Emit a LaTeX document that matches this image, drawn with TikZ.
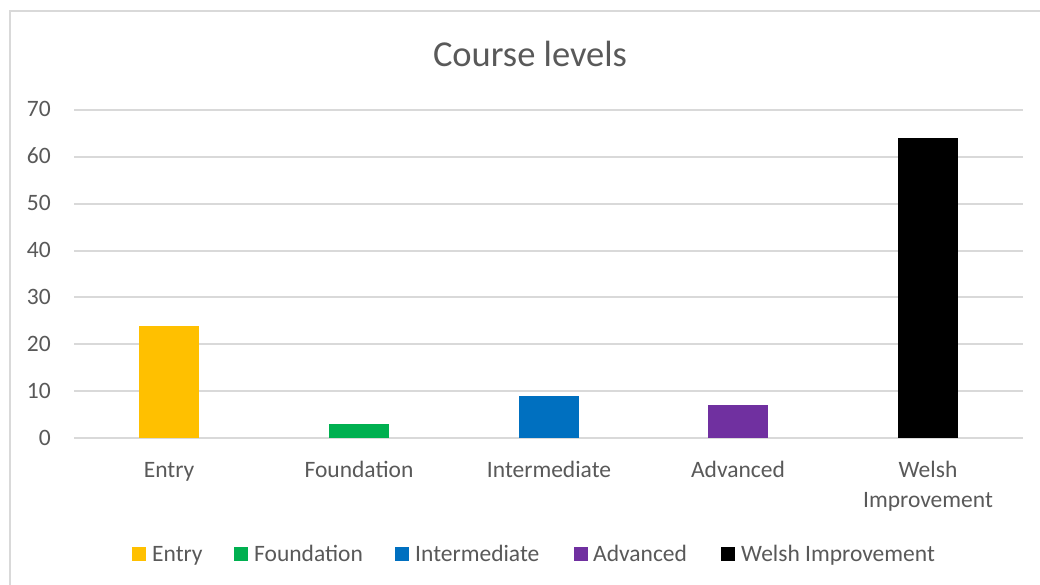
\documentclass[tikz,border=0pt]{standalone}
\usepackage{fontspec}
\setmainfont{Carlito}
\definecolor{txt}{HTML}{595959}
\definecolor{grid}{HTML}{D9D9D9}
\definecolor{cEntry}{HTML}{FFC000}
\definecolor{cFound}{HTML}{00B050}
\definecolor{cInter}{HTML}{0070C0}
\definecolor{cAdv}{HTML}{7030A0}
\definecolor{cWelsh}{HTML}{000000}
\begin{document}
\begin{tikzpicture}[x=1pt,y=-1pt,
  lbl/.style={font=\fontsize{23.5}{30}\selectfont, text=txt, inner sep=0pt},
  ylbl/.style={lbl, anchor=base east},
  catlbl/.style={lbl, anchor=base},
  leglbl/.style={lbl, anchor=base west},
  gridline/.style={draw=grid, line width=2pt},
  bar/.style={inner sep=0pt, outer sep=0pt},
  legsq/.style={inner sep=0pt, minimum size=14pt, anchor=south west}]
\useasboundingbox (0,0) rectangle (1040,585);
\clip (0,0) rectangle (1040,585);
\fill[white] (0,0) rectangle (1040,585);
\draw[grid, line width=1.4pt] (10,11) rectangle (1060,600);
% title
\node[lbl, font=\fontsize{36.5}{44}\selectfont, anchor=base] (title) at (530,67) {Course levels};
% gridlines and y labels
\foreach \v in {0,10,...,70}{
  \pgfmathsetmacro{\yy}{438-\v*4.6857}
  \coordinate (gl\v) at (74,\yy);
  \coordinate (gr\v) at (1023,\yy);
  \draw[gridline] (gl\v) -- (gr\v);
  \node[ylbl] (y\v) at (51,\yy+7) {\v};
}
% bars
\foreach \c/\val/\col/\nm in {169/24/cEntry/bEntry, 359/3/cFound/bFound, 549/9/cInter/bInter, 738/7/cAdv/bAdv, 928/64/cWelsh/bWelsh}{
  \pgfmathsetmacro{\top}{438-\val*4.6857}
  \fill[\col] (\c-30,\top) rectangle (\c+30,437.5);
}
% category labels
\node[catlbl] (cEntryL) at (169,477) {Entry};
\node[catlbl] (cFoundL) at (359,477) {Foundation};
\node[catlbl] (cInterL) at (549,477) {Intermediate};
\node[catlbl] (cAdvL) at (738,477) {Advanced};
\node[catlbl] (cWelshL) at (928,477) {\begin{tabular}[t]{@{}c@{}}Welsh\\Improvement\end{tabular}};
% legend
\node[legsq, fill=cEntry] (sqE) at (132,561) {};
\node[leglbl] (lE) at (152,561) {Entry};
\node[legsq, fill=cFound] (sqF) at (234,561) {};
\node[leglbl] (lF) at (254,561) {Foundation};
\node[legsq, fill=cInter] (sqI) at (395,561) {};
\node[leglbl] (lI) at (415,561) {Intermediate};
\node[legsq, fill=cAdv] (sqA) at (574,561) {};
\node[leglbl] (lA) at (593,561) {Advanced};
\node[legsq, fill=cWelsh] (sqW) at (721,561) {};
\node[leglbl] (lW) at (741,561) {Welsh Improvement};
\end{tikzpicture}
\end{document}
